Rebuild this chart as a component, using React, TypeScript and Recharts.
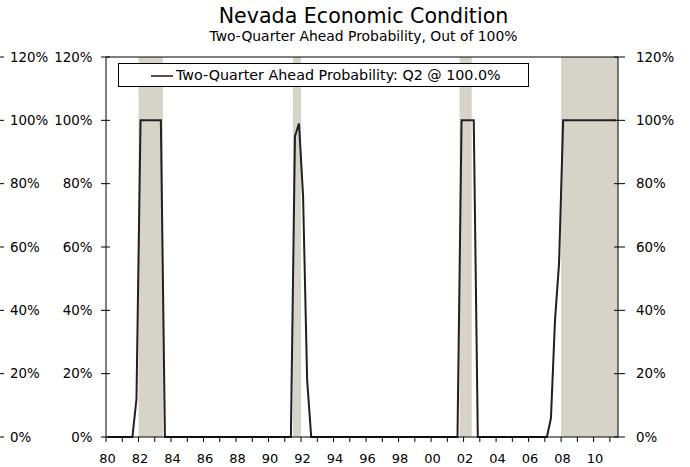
import React from 'react';
import { ComposedChart, Line, XAxis, YAxis, ReferenceArea, ReferenceLine } from 'recharts';

const FONT = '"DejaVu Sans", Verdana, sans-serif';

const chartTitle = 'Nevada Economic Condition';
const chartSubtitle = 'Two-Quarter Ahead Probability, Out of 100%';
const seriesName = 'Two-Quarter Ahead Probability: Q2 @ 100.0%';

const years = [
  1980, 1981, 1982, 1983, 1984, 1985, 1986, 1987, 1988, 1989,
  1990, 1991, 1992, 1993, 1994, 1995, 1996, 1997, 1998, 1999,
  2000, 2001, 2002, 2003, 2004, 2005, 2006, 2007, 2008, 2009,
  2010, 2011,
];
const quarterNames = ['Q1', 'Q2', 'Q3', 'Q4'];

// quarterly probability (%), 1980Q1 .. 2011Q2
const probability = [
  0, 0, 0, 0, // 1980
  0, 0, 0, 12, // 1981
  100, 100, 100, 100, // 1982
  100, 100, 0, 0, // 1983
  0, 0, 0, 0, // 1984
  0, 0, 0, 0, // 1985
  0, 0, 0, 0, // 1986
  0, 0, 0, 0, // 1987
  0, 0, 0, 0, // 1988
  0, 0, 0, 0, // 1989
  0, 0, 0, 0, // 1990
  0, 0, 95, 99, // 1991
  76, 18, 0, 0, // 1992
  0, 0, 0, 0, // 1993
  0, 0, 0, 0, // 1994
  0, 0, 0, 0, // 1995
  0, 0, 0, 0, // 1996
  0, 0, 0, 0, // 1997
  0, 0, 0, 0, // 1998
  0, 0, 0, 0, // 1999
  0, 0, 0, 0, // 2000
  0, 0, 0, 100, // 2001
  100, 100, 100, 0, // 2002
  0, 0, 0, 0, // 2003
  0, 0, 0, 0, // 2004
  0, 0, 0, 0, // 2005
  0, 0, 0, 0, // 2006
  0, 6, 37, 55, // 2007
  100, 100, 100, 100, // 2008
  100, 100, 100, 100, // 2009
  100, 100, 100, 100, // 2010
  100, 100, // 2011
];

const recessionStarts = [1982.0, 1991.5, 2001.75, 2008.0];
const recessionEnds = [1983.5, 1992.0, 2002.5, 2011.5];

const yTicks = [0, 20, 40, 60, 80, 100, 120];
const xDomain = [1980, 2011.5];

const data = probability.map((v, i) => ({
  quarter: `${years[Math.floor(i / 4)]}${quarterNames[i % 4]}`,
  t: years[Math.floor(i / 4)] + ((i % 4) + 0.5) / 4,
  value: v,
  right: v,
}));

const TICK_FONT = 13.4;

const LeftTick = (props: any) => {
  const { x, y, payload } = props;
  const label = `${payload.value}%`;
  return (
    <g>
      <line x1={x - 5} x2={x + 4} y1={y} y2={y} stroke="#000" strokeWidth={1} />
      <text x={x - 13.5} y={y} dy="0.36em" textAnchor="end" fontFamily={FONT} fontSize={TICK_FONT} fill="#000">
        {label}
      </text>
      <line x1={0} x2={4} y1={y} y2={y} stroke="#000" strokeWidth={1} />
      <text x={10} y={y} dy="0.36em" textAnchor="start" fontFamily={FONT} fontSize={TICK_FONT} fill="#000">
        {label}
      </text>
    </g>
  );
};

const RightTick = (props: any) => {
  const { x, y, payload } = props;
  const label = `${payload.value}%`;
  return (
    <g>
      <line x1={x - 4} x2={x + 7} y1={y} y2={y} stroke="#000" strokeWidth={1} />
      <text x={x + 18} y={y} dy="0.36em" textAnchor="start" fontFamily={FONT} fontSize={TICK_FONT} fill="#000">
        {label}
      </text>
    </g>
  );
};

const formatYear = (v: number) => (Math.round(v) % 2 === 0 ? String(Math.round(v)).slice(2) : '');

export default function App() {
  return (
    <div style={{ position: 'absolute', left: 0, top: 0, width: 690, height: 467, background: '#fff' }}>
      <div
        style={{
          position: 'absolute', left: 0, width: 727, top: 4, textAlign: 'center',
          fontFamily: FONT, fontSize: 20.6, lineHeight: '24px', color: '#000', whiteSpace: 'nowrap',
        }}
      >
        {chartTitle}
      </div>
      <div
        style={{
          position: 'absolute', left: 0, width: 727, top: 28, textAlign: 'center',
          fontFamily: FONT, fontSize: 13.9, lineHeight: '16px', color: '#000', whiteSpace: 'nowrap',
        }}
      >
        {chartSubtitle}
      </div>
      <ComposedChart
        width={690}
        height={467}
        data={data}
        margin={{ top: 57, right: 0, bottom: 0, left: 0 }}
      >
        {recessionStarts.map((s, i) => (
          <ReferenceArea
            key={i}
            x1={s}
            x2={recessionEnds[i]}
            yAxisId="left"
            fill="#D6D3C8"
            fillOpacity={1}
            stroke="none"
            ifOverflow="hidden"
          />
        ))}
        <XAxis
          dataKey="t"
          type="number"
          domain={xDomain}
          ticks={years}
          interval={0}
          tickFormatter={formatYear}
          allowDataOverflow
          height={30}
          tickSize={5}
          tickMargin={12}
          stroke="#000"
          tick={{ fill: '#000', fontSize: 13, fontFamily: FONT, dx: 1.5 }}
        />
        <YAxis
          yAxisId="left"
          orientation="left"
          width={106}
          domain={[0, 120]}
          ticks={yTicks}
          interval={0}
          tickSize={0}
          tickMargin={0}
          tickLine={false}
          stroke="#000"
          tick={<LeftTick />}
        />
        <YAxis
          yAxisId="right"
          orientation="right"
          width={72}
          domain={[0, 120]}
          ticks={yTicks}
          interval={0}
          tickSize={0}
          tickMargin={0}
          tickLine={false}
          stroke="#000"
          tick={<RightTick />}
        />
        <ReferenceLine y={120} yAxisId="left" stroke="#000" strokeWidth={1} />
        <Line
          yAxisId="right"
          dataKey="right"
          type="linear"
          stroke="none"
          dot={false}
          activeDot={false}
          legendType="none"
          isAnimationActive={false}
        />
        <Line
          yAxisId="left"
          dataKey="value"
          type="linear"
          stroke="#231F20"
          strokeWidth={2}
          dot={false}
          activeDot={false}
          isAnimationActive={false}
          name={seriesName}
        />
      </ComposedChart>
      <div
        style={{
          position: 'absolute', left: 118, top: 63, width: 409, height: 22,
          border: '1px solid #000', background: '#fff', boxSizing: 'content-box',
        }}
      >
        <div style={{ position: 'absolute', left: 32, top: 11, width: 22, height: 2, background: '#5c4f47' }} />
        <div
          style={{
            position: 'absolute', left: 57, top: 2, fontFamily: FONT, fontSize: 14.3,
            lineHeight: '18px', color: '#000', whiteSpace: 'nowrap',
          }}
        >
          {seriesName}
        </div>
      </div>
    </div>
  );
}
